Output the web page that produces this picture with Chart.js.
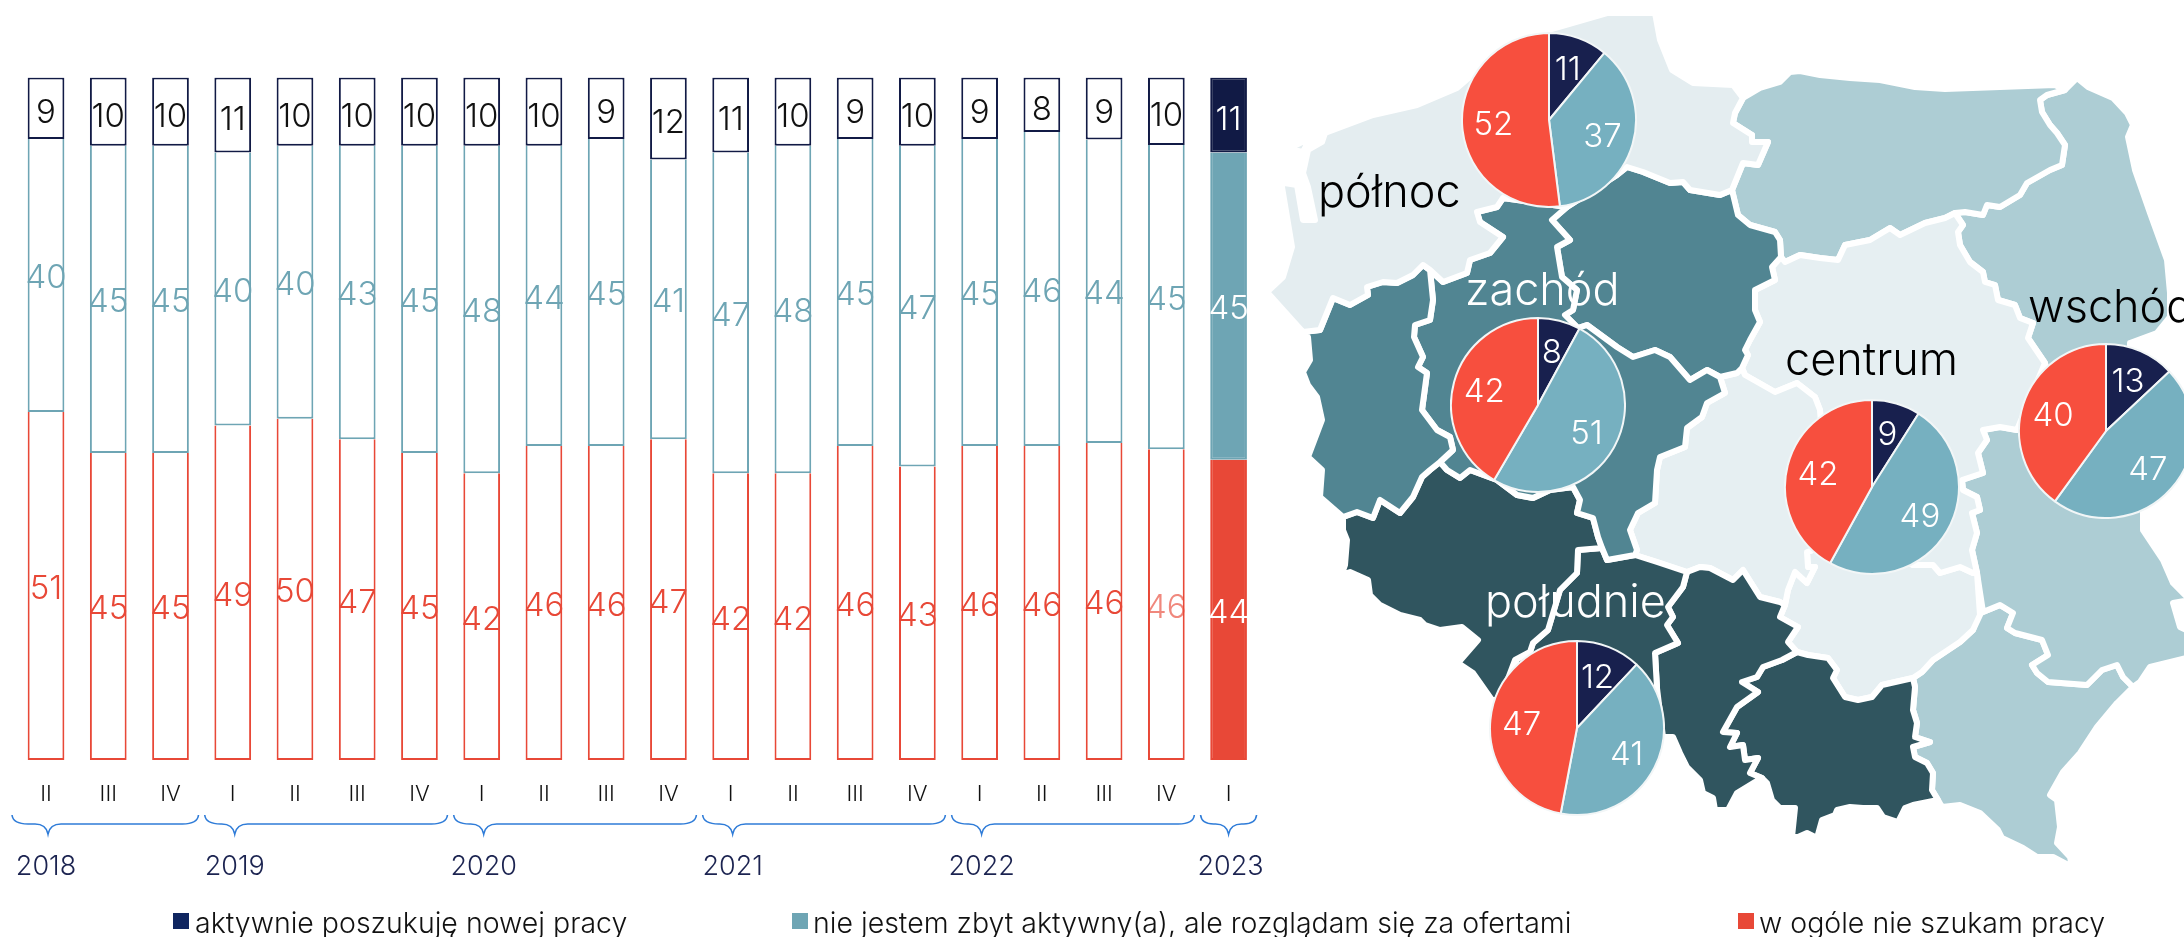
<!DOCTYPE html>
<html lang="pl"><head><meta charset="utf-8">
<style>
html,body{margin:0;padding:0;background:#fff;width:2184px;height:937px;overflow:hidden}
canvas{position:absolute;display:block}
</style>
<script src="https://cdn.jsdelivr.net/npm/chart.js@4"></script>
</head><body>
<canvas id="bars" width="2184" height="937" style="left:0;top:0"></canvas>
<canvas id="map" width="2184" height="937" style="left:0;top:0"></canvas>
<script>
// ---------- data ----------
const quarters = ['II','III','IV','I','II','III','IV','I','II','III','IV','I','II','III','IV','I','II','III','IV','I'];
const years = ['2018','2019','2020','2021','2022','2023'];
const yearFirstQuarter = [0,3,7,11,15,19];
const activeSeries  = [9,10,10,11,10,10,10,10,10,9,12,11,10,9,10,9,8,9,10,11];
const passiveSeries = [40,45,45,40,40,43,45,48,44,45,41,47,48,45,47,45,46,44,45,45];
const noneSeries    = [51,45,45,49,50,47,45,42,46,46,47,42,42,46,43,46,46,46,46,44];
const seriesNames = ['aktywnie poszukuję nowej pracy','nie jestem zbyt aktywny(a), ale rozglądam się za ofertami','w ogóle nie szukam pracy'];
const regionNames = ['północ','zachód','centrum','wschód','południe'];
const regionActive  = [11,8,9,13,12];
const regionPassive = [37,51,49,47,41];
const regionNone    = [52,42,42,40,47];

// map outlines, in map units
const mapPolnoc = [[1267,292],[1283,277],[1292,247],[1282,187],[1278,182],[1297,185],[1303,220],[1315,220],[1308,187],[1303,173],[1308,150],[1322,142],[1325,133],[1373,115],[1417,105],[1457,88],[1493,57],[1548,30],[1607,13],[1655,13],[1660,40],[1672,70],[1693,83],[1733,85],[1743,98],[1735,113],[1733,123],[1752,135],[1752,142],[1768,142],[1758,165],[1743,163],[1732,190],[1720,195],[1690,190],[1683,182],[1670,183],[1643,172],[1627,167],[1617,175],[1567,207],[1503,198],[1497,207],[1477,212],[1480,222],[1503,237],[1490,253],[1470,260],[1467,273],[1443,282],[1430,270],[1423,265],[1413,275],[1397,283],[1383,282],[1367,287],[1368,295],[1350,305],[1333,298],[1320,330],[1303,332]];
const mapWolin = [[1292,147],[1310,138],[1303,152],[1293,150]];
const mapLubuskie = [[1303,332],[1320,330],[1333,298],[1350,305],[1368,295],[1367,287],[1383,282],[1397,283],[1413,275],[1423,265],[1430,270],[1433,300],[1430,320],[1415,325],[1414,337],[1423,357],[1418,367],[1427,373],[1422,410],[1437,430],[1450,437],[1453,450],[1440,462],[1430,470],[1422,477],[1413,497],[1400,513],[1380,500],[1373,518],[1357,512],[1343,517],[1320,497],[1322,470],[1308,457],[1322,420],[1317,397],[1308,385],[1303,372],[1310,360],[1308,337]];
const mapWielkopolskie = [[1430,270],[1443,282],[1467,273],[1470,260],[1490,253],[1503,237],[1480,222],[1477,212],[1497,207],[1503,198],[1567,207],[1552,220],[1570,240],[1557,247],[1562,277],[1577,290],[1573,310],[1565,315],[1578,328],[1587,325],[1617,347],[1633,357],[1655,350],[1670,357],[1690,380],[1707,370],[1720,377],[1725,393],[1707,403],[1702,417],[1687,428],[1685,447],[1660,457],[1657,470],[1655,503],[1638,513],[1630,530],[1637,550],[1635,555],[1607,560],[1602,548],[1598,537],[1593,518],[1577,513],[1580,500],[1573,487],[1550,490],[1533,498],[1517,495],[1497,480],[1470,470],[1460,478],[1447,470],[1440,462],[1453,450],[1450,437],[1437,430],[1422,410],[1427,373],[1418,367],[1423,357],[1414,337],[1415,325],[1430,320],[1433,300]];
const mapKujawskie = [[1567,207],[1617,175],[1627,167],[1643,172],[1670,183],[1683,182],[1690,190],[1720,195],[1732,190],[1738,215],[1750,225],[1775,232],[1780,240],[1781,257],[1772,267],[1775,280],[1755,290],[1755,310],[1760,322],[1750,340],[1745,350],[1748,355],[1742,368],[1737,373],[1720,377],[1707,370],[1690,380],[1670,357],[1655,350],[1633,357],[1617,347],[1587,325],[1578,328],[1565,315],[1573,310],[1577,290],[1562,277],[1557,247],[1570,240],[1552,220]];
const mapDolnoslaskie = [[1343,517],[1357,512],[1373,518],[1380,500],[1400,513],[1413,497],[1422,477],[1430,470],[1440,462],[1447,470],[1460,478],[1470,470],[1497,480],[1517,495],[1533,498],[1550,490],[1573,487],[1580,500],[1577,513],[1593,518],[1598,537],[1602,548],[1578,550],[1577,573],[1560,590],[1548,630],[1533,643],[1530,652],[1515,660],[1500,700],[1492,700],[1473,673],[1458,663],[1478,640],[1462,627],[1440,630],[1425,625],[1420,620],[1400,615],[1380,605],[1370,595],[1368,580],[1350,572],[1340,575],[1335,593],[1345,565],[1347,540],[1343,530]];
const mapOpolskie = [[1578,550],[1602,548],[1607,560],[1635,555],[1657,562],[1687,572],[1683,587],[1668,607],[1673,617],[1667,625],[1678,643],[1655,653],[1657,688],[1640,760],[1560,760],[1515,660],[1530,652],[1533,643],[1548,630],[1560,590],[1577,573]];
const mapSlaskie = [[1687,572],[1700,567],[1710,568],[1733,580],[1743,570],[1760,597],[1780,602],[1785,605],[1780,617],[1798,627],[1788,642],[1797,652],[1782,660],[1763,667],[1757,677],[1742,682],[1758,692],[1737,707],[1723,732],[1737,733],[1730,747],[1743,745],[1745,760],[1758,758],[1750,773],[1762,778],[1755,782],[1737,793],[1728,810],[1715,810],[1713,798],[1703,793],[1700,780],[1687,767],[1680,753],[1673,737],[1663,737],[1657,688],[1655,653],[1678,643],[1667,625],[1673,617],[1668,607],[1683,587]];
const mapMalopolskie = [[1797,652],[1808,655],[1828,658],[1837,670],[1833,678],[1845,697],[1858,700],[1872,697],[1882,685],[1913,678],[1915,687],[1913,710],[1917,723],[1915,737],[1930,742],[1913,747],[1915,757],[1927,763],[1933,773],[1932,790],[1938,800],[1913,805],[1905,808],[1898,822],[1883,817],[1877,808],[1863,808],[1850,807],[1837,810],[1835,815],[1822,820],[1817,838],[1807,833],[1798,837],[1792,837],[1795,808],[1780,808],[1772,800],[1767,783],[1762,778],[1750,773],[1758,758],[1745,760],[1743,745],[1730,747],[1737,733],[1723,732],[1737,707],[1758,692],[1742,682],[1757,677],[1763,667],[1782,660]];
const mapLodzkie = [[1742,368],[1745,375],[1775,392],[1797,383],[1815,397],[1820,410],[1830,545],[1807,552],[1808,567],[1815,567],[1807,583],[1795,572],[1788,590],[1785,605],[1780,602],[1760,597],[1743,570],[1733,580],[1710,568],[1700,567],[1687,572],[1657,562],[1635,555],[1637,550],[1630,530],[1638,513],[1655,503],[1657,470],[1660,457],[1685,447],[1687,428],[1702,417],[1707,403],[1725,393],[1720,377],[1737,373]];
const mapMazowieckie = [[1742,368],[1748,355],[1745,350],[1750,340],[1760,322],[1755,310],[1755,290],[1775,280],[1772,267],[1781,257],[1785,262],[1800,255],[1820,258],[1838,260],[1845,245],[1870,240],[1890,228],[1900,235],[1925,223],[1945,218],[1955,213],[1963,225],[1958,232],[1960,245],[1970,262],[1983,272],[1985,282],[1995,285],[1998,300],[2015,305],[2020,318],[2033,323],[2028,338],[2045,363],[2017,430],[2000,427],[1983,430],[1987,440],[1978,453],[1983,473],[1962,480],[1963,490],[1977,497],[1980,510],[1972,513],[1977,533],[1972,550],[1977,573],[1973,573],[1960,567],[1940,573],[1933,565],[1913,565],[1880,550],[1830,545],[1820,410],[1815,397],[1797,383],[1775,392],[1745,375]];
const mapSwietokrzyskie = [[1830,545],[1807,552],[1808,567],[1815,567],[1807,583],[1795,572],[1788,590],[1785,605],[1780,617],[1798,627],[1788,642],[1797,652],[1808,655],[1828,658],[1837,670],[1833,678],[1845,697],[1858,700],[1872,697],[1882,685],[1913,678],[1922,672],[1933,660],[1960,642],[1973,630],[1980,615],[1977,573],[1973,573],[1960,567],[1940,573],[1933,565],[1913,565],[1880,550]];
const mapWarminskie = [[1743,98],[1760,88],[1780,82],[1790,72],[1800,71],[1820,75],[1850,78],[1880,80],[1915,87],[1945,89],[2000,87],[2055,85],[2065,90],[2047,95],[2040,100],[2042,112],[2050,125],[2057,133],[2065,145],[2062,165],[2050,170],[2027,183],[2020,195],[2000,207],[1987,205],[1983,215],[1965,212],[1955,213],[1945,218],[1925,223],[1900,235],[1890,228],[1870,240],[1845,245],[1838,260],[1820,258],[1800,255],[1785,262],[1781,257],[1780,240],[1775,232],[1750,225],[1738,215],[1732,190],[1743,163],[1758,165],[1768,142],[1752,142],[1752,135],[1733,123],[1735,113]];
const mapPodlaskie = [[2072,83],[2077,78],[2088,87],[2113,98],[2127,113],[2133,125],[2128,137],[2135,170],[2150,213],[2167,260],[2170,293],[2170,317],[2157,333],[2130,343],[2130,420],[2060,420],[2045,363],[2028,338],[2033,323],[2020,318],[2015,305],[1998,300],[1995,285],[1985,282],[1983,272],[1970,262],[1960,245],[1958,232],[1963,225],[1955,213],[1965,212],[1983,215],[1987,205],[2000,207],[2020,195],[2027,183],[2050,170],[2062,165],[2065,145],[2057,133],[2050,125],[2042,112],[2040,100],[2047,95],[2065,90]];
const mapLubelskie = [[1983,612],[1977,573],[1972,550],[1977,533],[1972,513],[1980,510],[1977,497],[1963,490],[1962,480],[1983,473],[1978,453],[1987,440],[1983,430],[2000,427],[2017,430],[2060,420],[2130,420],[2143,512],[2143,530],[2163,560],[2173,583],[2190,600],[2173,603],[2180,627],[2190,632],[2190,657],[2150,667],[2140,682],[2133,687],[2123,677],[2117,665],[2102,670],[2087,685],[2048,682],[2037,673],[2032,665],[2048,655],[2042,640],[2015,633],[2007,628],[2013,613],[2000,605]];
const mapPodkarpackie = [[2133,687],[2123,677],[2117,665],[2102,670],[2087,685],[2048,682],[2037,673],[2032,665],[2048,655],[2042,640],[2015,633],[2007,628],[2013,613],[2000,605],[1983,612],[1978,615],[1973,630],[1960,642],[1933,660],[1922,672],[1913,678],[1915,687],[1913,710],[1917,723],[1915,737],[1930,742],[1913,747],[1915,757],[1927,763],[1933,773],[1932,790],[1938,800],[1942,807],[1960,805],[1980,813],[1998,830],[2002,838],[2023,848],[2037,857],[2053,857],[2072,867],[2070,857],[2057,843],[2060,827],[2057,800],[2050,795],[2063,772],[2080,753],[2097,727],[2117,703]];

// ---------- styling ----------
const FONT = 'Inter, "Noto Sans", sans-serif';
const NAVY='#111a45', TEAL='#6ea5b4', RED='#e84837';
const PIE_COLORS=['#18204e','#76b0c0','#f74f3e'];
const C_POLNOC='#e4edf0', C_ZACHOD='#518592', C_POLUDNIE='#30555f', C_CENTRUM='#e6eff2', C_WSCHOD='#adcdd4';
const last = quarters.length-1;
const share = (arr,i)=> arr[i]/(activeSeries[i]+passiveSeries[i]+noneSeries[i])*100;

// ---------- stacked bars ----------
function barDataset(name,arr,color,skipped){
  return {label:name,data:arr.map((_,i)=>share(arr,i)),rawValues:arr,stack:'s',textColor:skipped?color:'#111111',
    backgroundColor:arr.map((_,i)=>i===last?color:'#ffffff'),
    borderColor:color,borderWidth:2,borderSkipped:skipped?'top':false,
    barPercentage:0.59,categoryPercentage:1};
}
const barLabels = {id:'barLabels',afterDatasetsDraw(chart){
  const {ctx}=chart;
  ctx.save();
  ctx.textAlign='center';ctx.textBaseline='middle';ctx.font='300 33px '+FONT;
  chart.data.datasets.forEach((ds,d)=>{
    chart.getDatasetMeta(d).data.forEach((el,i)=>{
      const p=el.getProps(['x','y','base'],true);
      ctx.fillStyle=i===last?'#ffffff':ds.textColor;
      ctx.globalAlpha=(d===0&&i===18)?0.65:1;
      ctx.fillText(String(ds.rawValues[i]),p.x,(p.y+p.base)/2+(d===2?5:3));
    });
  });
  ctx.restore();
}};
const yearAxis = {id:'yearAxis',afterDraw(chart){
  const {ctx,scales:{x}}=chart;
  ctx.save();
  yearFirstQuarter.forEach((q,k)=>{
    const end=k<years.length-1?yearFirstQuarter[k+1]-1:last;
    const xt=x.getPixelForTick(q)+(k===5?0:2);
    const x0=x.getPixelForTick(q)-(k===0?34:28), x1=x.getPixelForTick(end)+28;
    const yT=815,yM=824,yB=834,r=k===5?13:16;
    ctx.beginPath();ctx.moveTo(x0,yT);
    ctx.quadraticCurveTo(x0+1,yM,x0+r,yM);
    ctx.lineTo(Math.max(xt-13,x0+r),yM);
    ctx.quadraticCurveTo(xt-2,yM,xt,yB);
    ctx.quadraticCurveTo(xt+2,yM,Math.min(xt+13,x1-r),yM);
    ctx.lineTo(x1-r,yM);
    ctx.quadraticCurveTo(x1-1,yM,x1,yT);
    ctx.strokeStyle='#2f7cd8';ctx.lineWidth=1.6;ctx.stroke();
    ctx.fillStyle='#1b2350';ctx.font='300 27px '+FONT;ctx.textAlign='center';ctx.textBaseline='middle';
    ctx.fillText(years[k],x.getPixelForTick(q)+(k===0?0:2),867);
  });
  const lx=[173,792,1738], ltx=[195,813,1759], sc=['#0f2560',TEAL,'#e84837'];
  seriesNames.forEach((s,i)=>{
    ctx.fillStyle=sc[i];ctx.fillRect(lx[i],913,16,16);
    ctx.fillStyle='#111111';ctx.font='300 28.5px '+FONT;ctx.textAlign='left';ctx.textBaseline='middle';
    ctx.fillText(s,ltx[i],924);
  });
  ctx.restore();
}};
new Chart(document.getElementById('bars'),{
  type:'bar',
  data:{labels:quarters,datasets:[
    barDataset(seriesNames[2],noneSeries,RED,true),
    barDataset(seriesNames[1],passiveSeries,TEAL,true),
    barDataset(seriesNames[0],activeSeries,NAVY,false)
  ]},
  options:{responsive:false,animation:false,
    layout:{padding:{left:14.9,right:924.3,top:77.5,bottom:0}},
    plugins:{legend:{display:false},tooltip:{enabled:false}},
    scales:{
      x:{stacked:true,grid:{display:false,drawTicks:false},border:{display:false},
        afterFit(s){s.height=177;},
        ticks:{autoSkip:false,maxRotation:0,padding:21,color:'#111111',font:{family:FONT,size:22,weight:'300'}}},
      y:{stacked:true,min:0,max:100,display:false}
    }
  },
  plugins:[barLabels,yearAxis]
});

// ---------- map ----------
const polygons=[
  [mapPolnoc,C_POLNOC],[mapWolin,C_POLNOC],
  [mapLubuskie,C_ZACHOD],[mapWielkopolskie,C_ZACHOD],[mapKujawskie,C_ZACHOD],
  [mapDolnoslaskie,C_POLUDNIE],[mapOpolskie,C_POLUDNIE],[mapSlaskie,C_POLUDNIE],[mapMalopolskie,C_POLUDNIE],
  [mapLodzkie,C_CENTRUM],[mapMazowieckie,C_CENTRUM],[mapSwietokrzyskie,C_CENTRUM],
  [mapWarminskie,C_WSCHOD],[mapPodlaskie,C_WSCHOD],[mapLubelskie,C_WSCHOD],[mapPodkarpackie,C_WSCHOD]
];
const labelPlaces=[[1318,207,'#000000'],[1465,305,'#ffffff'],[1785,375,'#000000'],[2028,322,'#000000'],[1485,617,'#ffffff']];
const mapLabels={id:'mapLabels',afterDatasetsDraw(chart){
  const {ctx,scales:{x,y}}=chart;
  ctx.save();ctx.textAlign='left';ctx.textBaseline='alphabetic';ctx.font='300 45px '+FONT;
  regionNames.forEach((n,i)=>{
    const p=labelPlaces[i];ctx.fillStyle=p[2];
    ctx.fillText(n,x.getPixelForValue(p[0]),y.getPixelForValue(p[1]));
  });
  ctx.restore();
}};
new Chart(document.getElementById('map'),{
  type:'scatter',
  data:{datasets:polygons.map(([pts,c])=>({
    data:pts.concat([pts[0]]).map(([x,y])=>({x,y})),
    showLine:true,fill:'shape',backgroundColor:c,borderColor:'#ffffff',borderWidth:6,
    borderJoinStyle:'round',pointRadius:0,tension:0,clip:false
  }))},
  options:{responsive:false,animation:false,layout:{padding:0},
    plugins:{legend:{display:false},tooltip:{enabled:false}},
    scales:{x:{type:'linear',min:0,max:2184,display:false},y:{type:'linear',min:0,max:937,reverse:true,display:false}}
  },
  plugins:[mapLabels]
});

// ---------- regional pies ----------
const pieCentres=[[1548.5,120],[1538,405],[1872,487],[2106,430.5],[1577,728]];
const pieLabels={id:'pieLabels',afterDatasetsDraw(chart){
  const {ctx}=chart;const ds=chart.data.datasets[0];
  ctx.save();ctx.fillStyle='#ffffff';ctx.font='300 33px '+FONT;ctx.textAlign='center';ctx.textBaseline='middle';
  chart.getDatasetMeta(0).data.forEach((a,i)=>{
    const p=a.getProps(['x','y','startAngle','endAngle','outerRadius'],true);
    const m=(p.startAngle+p.endAngle)/2,r=p.outerRadius*0.64;
    ctx.fillText(String(ds.data[i]),p.x+Math.cos(m)*r,p.y+Math.sin(m)*r+2);
  });
  ctx.restore();
}};
regionNames.forEach((name,i)=>{
  const size=176,c=document.createElement('canvas');
  c.width=size;c.height=size;
  c.style.left=(pieCentres[i][0]-size/2)+'px';c.style.top=(pieCentres[i][1]-size/2)+'px';
  document.body.appendChild(c);
  new Chart(c,{type:'pie',
    data:{labels:seriesNames,datasets:[{data:[regionActive[i],regionPassive[i],regionNone[i]],
      backgroundColor:PIE_COLORS,borderColor:'#f2f6f7',borderWidth:2}]},
    options:{responsive:false,animation:false,layout:{padding:0},
      plugins:{legend:{display:false},tooltip:{enabled:false}}},
    plugins:[pieLabels]});
});
</script>
</body></html>
